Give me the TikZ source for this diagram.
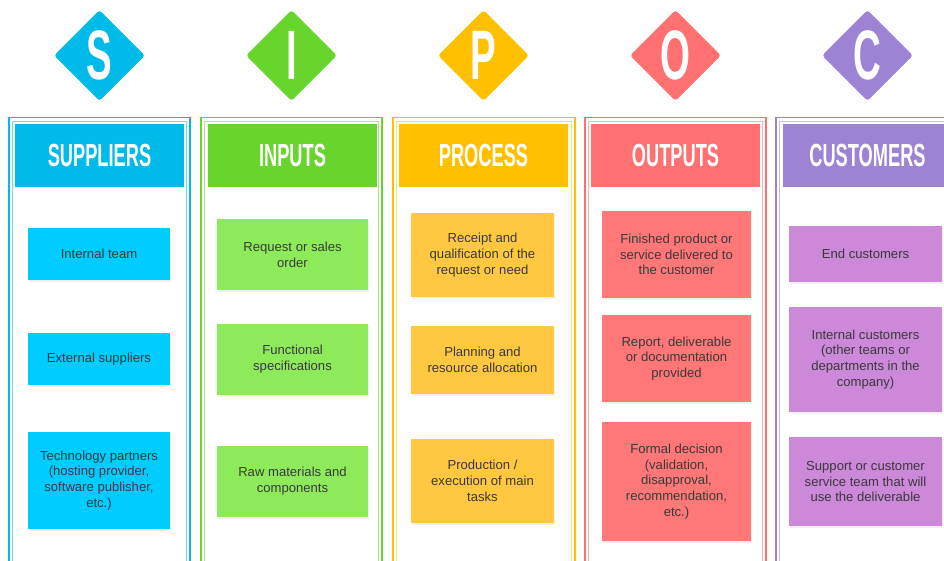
\documentclass[tikz,border=0pt]{standalone}
\usepackage{fontspec}
\setmainfont{Liberation Sans}
\usetikzlibrary{shapes.geometric,shadows}
\definecolor{sC}{HTML}{00BAE9}
\definecolor{sB}{HTML}{00CCFF}
\definecolor{iC}{HTML}{67D52B}
\definecolor{iB}{HTML}{8DEB5B}
\definecolor{pC}{HTML}{FFC000}
\definecolor{pB}{HTML}{FFC840}
\definecolor{oC}{HTML}{FF7070}
\definecolor{oB}{HTML}{FF7777}
\definecolor{cC}{HTML}{9D83D3}
\definecolor{cB}{HTML}{CC88D9}
\definecolor{txt}{HTML}{3A3A3A}
\newcommand{\hdrtext}[1]{\scalebox{0.57}[1]{\bfseries #1}}
\newcommand{\bigletter}[1]{\scalebox{0.55}[1]{\bfseries #1}}
\begin{document}
\begin{tikzpicture}[x=1pt,y=-1pt,
  badge/.style={diamond, aspect=1, minimum size=91pt, inner sep=0pt, rounded corners=3pt,
    text=white, font=\fontsize{70}{70}\selectfont},
  hdr/.style={minimum width=169pt, minimum height=63pt, inner sep=0pt, text=white,
    font=\fontsize{32}{32}\selectfont},
  item/.style={minimum width=#1, inner sep=0pt, align=center, text=txt,
    font=\fontsize{13.1}{15.8}\selectfont,
    drop shadow={shadow xshift=0.6pt, shadow yshift=-2pt, opacity=0.12}},
  outer/.style={line width=1.6pt},
  inner/.style={line width=0.8pt}
]
\useasboundingbox (0,0) rectangle (944,560);
\clip (0,0) rectangle (944,560);

% frames
\foreach \xa/\xb/\c in {9/190/sC, 201/382/iC, 393/575/pC, 585/766/oC, 776/990/cC}{
  \draw[outer, draw=\c] (\xa,580) -- (\xa,117.5) -- (\xb,117.5) -- (\xb,580);
  \draw[inner, draw=\c!55] (\xa+3.5,580) -- (\xa+3.5,121) -- (\xb-3.5,121) -- (\xb-3.5,580);
}

% badges
\node[badge, fill=sC] (bs) at (99.5,55.5) {\bigletter{S}};
\node[badge, fill=iC] (bi) at (291.5,55.5) {\bigletter{I}};
\node[badge, fill=pC] (bp) at (483.5,55.5) {\bigletter{P}};
\node[badge, fill=oC] (bo) at (675.5,55.5) {\bigletter{O}};
\node[badge, fill=cC] (bc) at (867.5,55.5) {\bigletter{C}};

% headers
\node[hdr, fill=sC] (hs) at (99.5,155.5) {\hdrtext{SUPPLIERS}};
\node[hdr, fill=iC] (hi) at (292.5,155.5) {\hdrtext{INPUTS}};
\node[hdr, fill=pC] (hp) at (483.5,155.5) {\hdrtext{PROCESS}};
\node[hdr, fill=oC] (ho) at (675.5,155.5) {\hdrtext{OUTPUTS}};
\node[hdr, fill=cC] (hc) at (867.5,155.5) {\hdrtext{CUSTOMERS}};

% suppliers
\node[item=142pt, fill=sB, minimum height=52pt] (s1) at (99,254) {Internal team};
\node[item=142pt, fill=sB, minimum height=52pt] (s2) at (99,359) {External suppliers};
\node[item=142pt, fill=sB, minimum height=97pt] (s3) at (99,480.5) {Technology partners\\(hosting provider,\\software publisher,\\etc.)};

% inputs
\node[item=151pt, fill=iB, minimum height=71pt] (i1) at (292.5,254.5) {Request or sales\\order};
\node[item=151pt, fill=iB, minimum height=71pt] (i2) at (292.5,359.5) {Functional\\specifications};
\node[item=151pt, fill=iB, minimum height=71pt] (i3) at (292.5,481.5) {Raw materials and\\components};

% process
\node[item=143pt, fill=pB, minimum height=84pt] (p1) at (482.5,255) {Receipt and\\qualification of the\\request or need};
\node[item=143pt, fill=pB, minimum height=68pt] (p2) at (482.5,360) {Planning and\\resource allocation};
\node[item=143pt, fill=pB, minimum height=84pt] (p3) at (482.5,481) {Production /\\execution of main\\tasks};

% outputs
\node[item=149pt, fill=oB, minimum height=87pt] (o1) at (676.5,254.5) {Finished product or\\service delivered to\\the customer};
\node[item=149pt, fill=oB, minimum height=87pt] (o2) at (676.5,358.5) {Report, deliverable\\or documentation\\provided};
\node[item=149pt, fill=oB, minimum height=119pt] (o3) at (676.5,481.5) {Formal decision\\(validation,\\disapproval,\\recommendation,\\etc.)};

% customers
\node[item=153pt, fill=cB, minimum height=56pt] (c1) at (865.5,254) {End customers};
\node[item=153pt, fill=cB, minimum height=105pt] (c2) at (865.5,359.5) {Internal customers\\(other teams or\\departments in the\\company)};
\node[item=153pt, fill=cB, minimum height=89pt] (c3) at (865.5,481.5) {Support or customer\\service team that will\\use the deliverable};
\end{tikzpicture}
\end{document}
